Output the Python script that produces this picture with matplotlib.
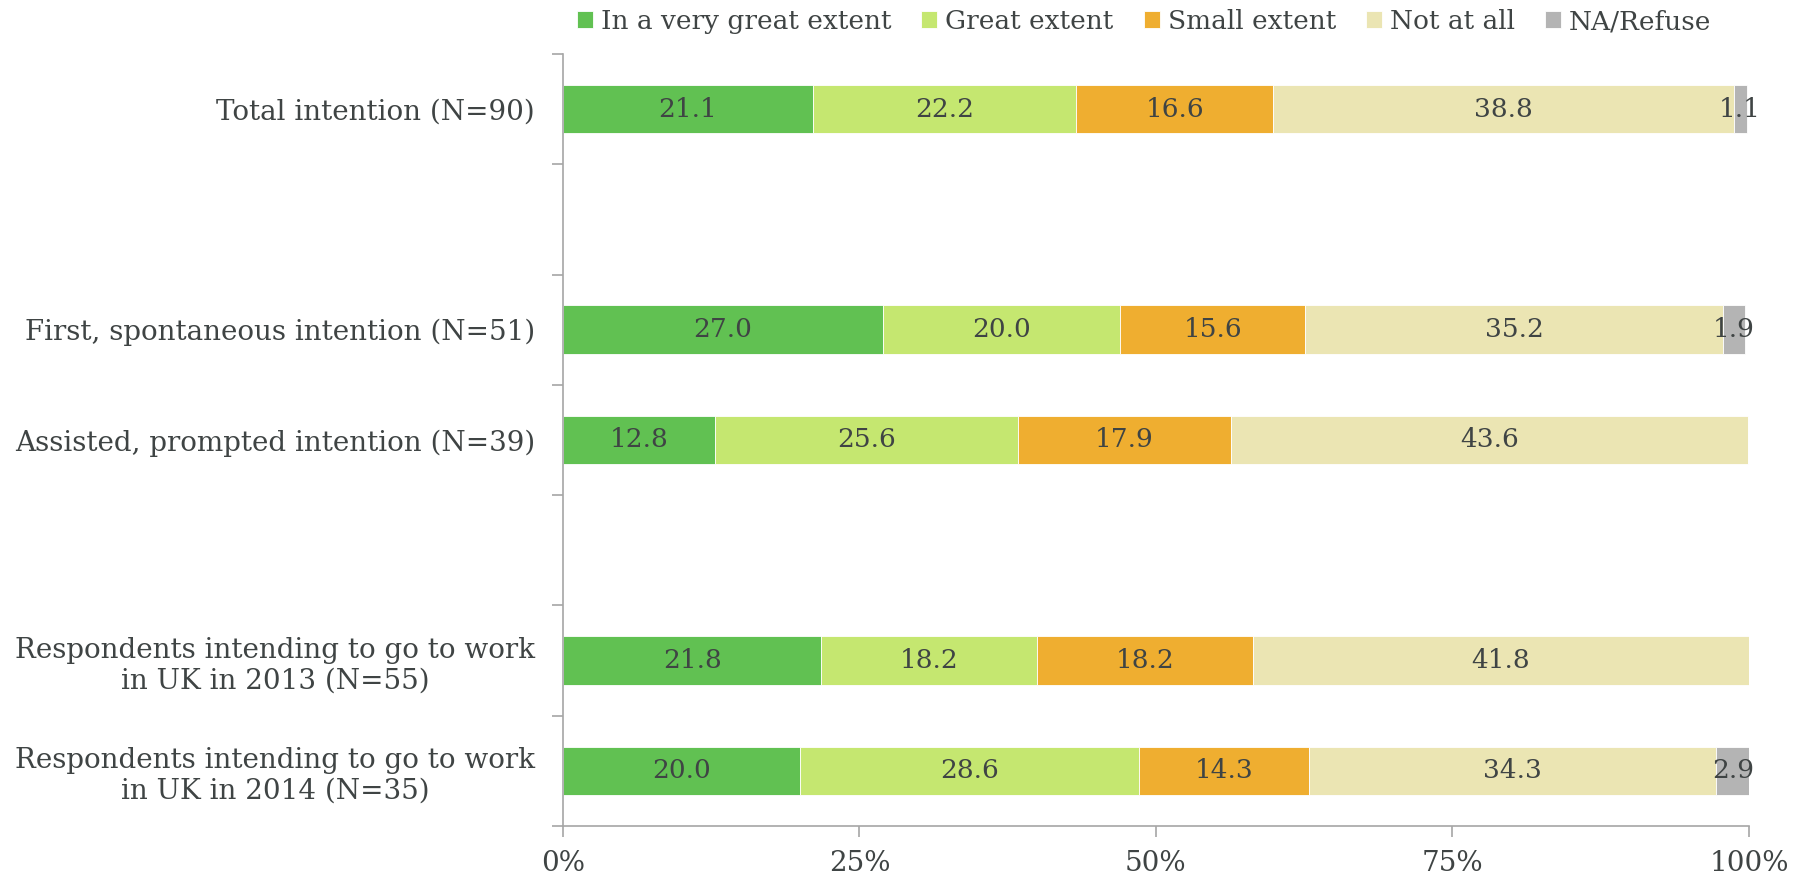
import numpy as np
import matplotlib.pyplot as plt
from matplotlib.ticker import FixedLocator

plt.rcParams['font.family'] = ['DejaVu Serif']

# Dados
categorias = [
    'Total intention (N=90)',
    'First, spontaneous intention (N=51)',
    'Assisted, prompted intention (N=39)',
    'Respondents intending to go to work\nin UK in 2013 (N=55)',
    'Respondents intending to go to work\nin UK in 2014 (N=35)',
]
linhas = [0, 2, 3, 5, 6]  # linhas 1 e 4 ficam vazias

series = ['In a very great extent', 'Great extent', 'Small extent', 'Not at all', 'NA/Refuse']
muito_grande = [21.1, 27.0, 12.8, 21.8, 20.0]
grande = [22.2, 20.0, 25.6, 18.2, 28.6]
pequena = [16.6, 15.6, 17.9, 18.2, 14.3]
nada = [38.8, 35.2, 43.6, 41.8, 34.3]
na_recusa = [1.1, 1.9, 0.0, 0.0, 2.9]

cores = ['#61C152', '#C5E770', '#EFAE30', '#EBE5B3', '#B4B4B4']
cor_texto = '#3F4444'
cor_eixo = '#A6A6A6'

valores = [muito_grande, grande, pequena, nada, na_recusa]

fig = plt.figure(figsize=(18.06, 8.83), dpi=100)
ax = fig.add_axes([0.3117, 0.0646, 0.9684 - 0.3117, 0.9388 - 0.0646])

esquerda = np.zeros(len(categorias))
for nome, vals, cor in zip(series, valores, cores):
    vals = np.array(vals)
    ax.barh(linhas, vals, left=esquerda, height=0.44, color=cor,
            edgecolor='white', linewidth=0.6, label=nome)
    for y, l, v in zip(linhas, esquerda, vals):
        if v > 0:
            ax.text(l + v / 2, y, f'{v:.1f}', ha='center', va='center',
                    fontsize=19, color=cor_texto)
    esquerda += vals

ax.set_xlim(0, 100)
ax.set_ylim(6.5, -0.5)
ax.set_xticks([0, 25, 50, 75, 100])
ax.set_xticklabels(['0%', '25%', '50%', '75%', '100%'])
ax.set_yticks(linhas)
ax.set_yticklabels(categorias)
ax.yaxis.set_minor_locator(FixedLocator(np.arange(-0.5, 7, 1)))
ax.tick_params(axis='y', which='major', length=0, pad=20, labelsize=20,
               labelcolor=cor_texto)
ax.tick_params(axis='y', which='minor', length=8, color=cor_eixo, width=1.2)
ax.tick_params(axis='x', length=8, color=cor_eixo, width=1.2, pad=9,
               labelsize=20, labelcolor=cor_texto)
for lbl in ax.get_yticklabels():
    lbl.set_multialignment('center')

for s in ['top', 'right']:
    ax.spines[s].set_visible(False)
for s in ['left', 'bottom']:
    ax.spines[s].set_color(cor_eixo)
    ax.spines[s].set_linewidth(1.2)

ax.legend(loc='center', bbox_to_anchor=(0.49, 1.042), ncol=5, frameon=False,
          fontsize=19, handlelength=0.6, handleheight=0.6, handletextpad=0.3,
          columnspacing=1.15, labelcolor=cor_texto)

fig.savefig('out.png', dpi=100)
